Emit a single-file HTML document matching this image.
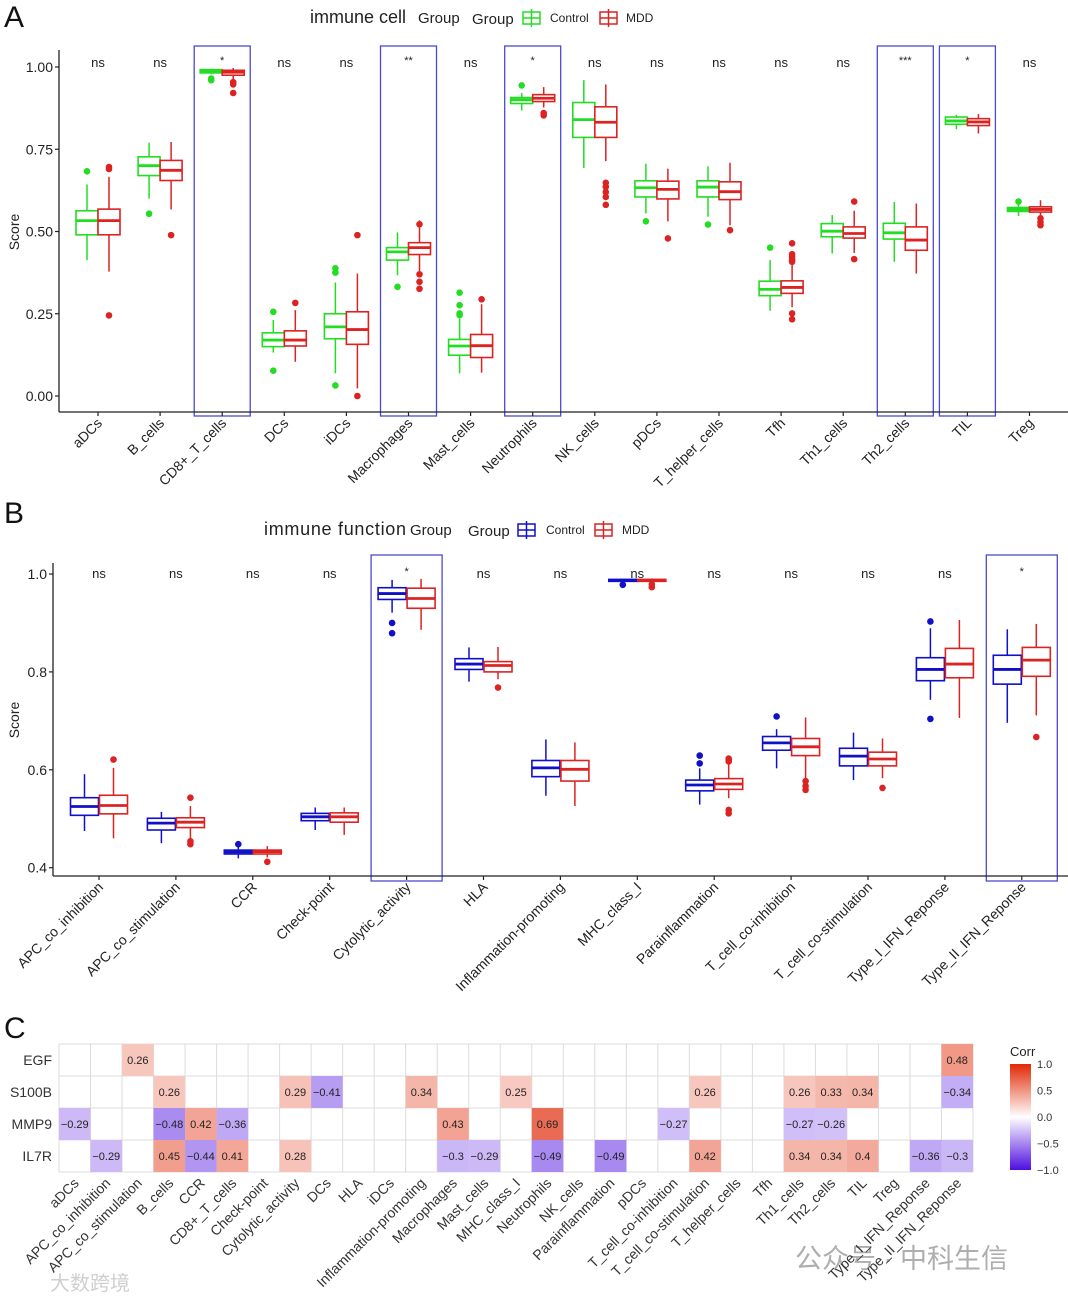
<!DOCTYPE html>
<html><head><meta charset="utf-8"><style>
html,body{margin:0;padding:0;background:#fff;}
svg{display:block;font-family:"Liberation Sans","Noto Sans CJK SC",sans-serif;}
</style></head><body>
<svg id="fig" width="1068" height="1301" viewBox="0 0 1068 1301" xmlns="http://www.w3.org/2000/svg">
<rect width="1068" height="1301" fill="#fff"/>
<text x="4" y="27" font-size="30" fill="#111">A</text>
<text x="4" y="523" font-size="30" fill="#111">B</text>
<text x="4" y="1038" font-size="30" fill="#111">C</text>
<g>
<text x="310" y="23" font-size="18" fill="#222">immune cell</text>
<text x="418" y="23" font-size="15" fill="#222">Group</text>
<text x="472" y="24" font-size="15" fill="#222">Group</text>
<g><rect x="523" y="12" width="17" height="12" fill="none" stroke="#22dd22" stroke-width="1.5"/><line x1="523" y1="18" x2="540" y2="18" stroke="#22dd22" stroke-width="1.5"/><line x1="531.5" y1="9" x2="531.5" y2="27" stroke="#22dd22" stroke-width="1.5"/><text x="550" y="22" font-size="12" fill="#222">Control</text></g>
<g><rect x="600" y="12" width="17" height="12" fill="none" stroke="#dd2222" stroke-width="1.5"/><line x1="600" y1="18" x2="617" y2="18" stroke="#dd2222" stroke-width="1.5"/><line x1="608.5" y1="9" x2="608.5" y2="27" stroke="#dd2222" stroke-width="1.5"/><text x="626" y="22" font-size="12" fill="#222">MDD</text></g>
</g>
<g>
<text x="264" y="535" font-size="18" fill="#222" textLength="142">immune function</text>
<text x="410" y="535" font-size="15" fill="#222">Group</text>
<text x="468" y="536" font-size="15" fill="#222">Group</text>
<g><rect x="518" y="524" width="17" height="12" fill="none" stroke="#1010c8" stroke-width="1.5"/><line x1="518" y1="530" x2="535" y2="530" stroke="#1010c8" stroke-width="1.5"/><line x1="526.5" y1="521" x2="526.5" y2="539" stroke="#1010c8" stroke-width="1.5"/><text x="546" y="534" font-size="12" fill="#222">Control</text></g>
<g><rect x="595" y="524" width="17" height="12" fill="none" stroke="#dd2222" stroke-width="1.5"/><line x1="595" y1="530" x2="612" y2="530" stroke="#dd2222" stroke-width="1.5"/><line x1="603.5" y1="521" x2="603.5" y2="539" stroke="#dd2222" stroke-width="1.5"/><text x="622" y="534" font-size="12" fill="#222">MDD</text></g>
</g>
<text x="795" y="1268" font-size="27" fill="#9a9a9a" opacity="0.8">公众号 · 中科生信</text>
<text x="50" y="1290" font-size="20" fill="#bbb" opacity="0.7">大数跨境</text>
</svg>
<script>
// ---------- Panel A data ----------
const catsA = ["aDCs","B_cells","CD8+_T_cells","DCs","iDCs","Macrophages","Mast_cells","Neutrophils","NK_cells","pDCs","T_helper_cells","Tfh","Th1_cells","Th2_cells","TIL","Treg"];
const ctrlA = [[0.413,0.49,0.533,0.563,0.643],[0.60,0.67,0.70,0.727,0.77],[0.978,0.982,0.988,0.992,0.994],[0.132,0.15,0.17,0.192,0.231],[0.069,0.174,0.21,0.25,0.345],[0.367,0.413,0.438,0.451,0.497],[0.069,0.124,0.152,0.172,0.236],[0.868,0.889,0.90,0.907,0.921],[0.693,0.786,0.84,0.892,0.96],[0.555,0.605,0.633,0.654,0.706],[0.545,0.605,0.635,0.654,0.698],[0.259,0.305,0.324,0.349,0.413],[0.433,0.484,0.501,0.524,0.55],[0.408,0.477,0.496,0.525,0.59],[0.811,0.826,0.836,0.848,0.855],[0.547,0.561,0.567,0.573,0.583]];
const ctrlOutA = [[0.683],[0.554],[0.965,0.96],[0.256,0.077],[0.388,0.375,0.032],[0.332],[0.314,0.276,0.251,0.246],[0.944],[],[0.531],[0.521],[0.451],[],[],[],[0.591]];
const mddA = [[0.378,0.49,0.533,0.568,0.666],[0.567,0.655,0.686,0.716,0.772],[0.96,0.975,0.984,0.99,0.997],[0.104,0.152,0.17,0.198,0.261],[0.023,0.157,0.202,0.256,0.372],[0.38,0.43,0.451,0.466,0.534],[0.071,0.117,0.153,0.187,0.279],[0.877,0.895,0.905,0.916,0.939],[0.714,0.786,0.832,0.879,0.947],[0.531,0.599,0.628,0.653,0.691],[0.519,0.597,0.621,0.651,0.709],[0.27,0.312,0.33,0.35,0.398],[0.435,0.48,0.494,0.514,0.563],[0.372,0.443,0.474,0.514,0.585],[0.798,0.822,0.833,0.843,0.857],[0.545,0.559,0.567,0.575,0.595]];
const mddOutA = [[0.696,0.69,0.245],[0.489],[0.954,0.947,0.921],[0.283],[0.489,0.0],[0.522,0.37,0.347,0.326],[0.294],[0.86,0.853],[0.648,0.636,0.62,0.605,0.581],[0.479],[0.504],[0.464,0.431,0.423,0.415,0.408,0.251,0.233],[0.591,0.416],[],[],[0.54,0.529,0.519]];
const sigA = ["ns","ns","*","ns","ns","**","ns","*","ns","ns","ns","ns","ns","***","*","ns"];
const ticksA = [0,0.25,0.5,0.75,1.0];
const tickLabelsA = ["0.00","0.25","0.50","0.75","1.00"];

// ---------- Panel B data ----------
const catsB = ["APC_co_inhibition","APC_co_stimulation","CCR","Check-point","Cytolytic_activity","HLA","Inflammation-promoting","MHC_class_I","Parainflammation","T_cell_co-inhibition","T_cell_co-stimulation","Type_I_IFN_Reponse","Type_II_IFN_Reponse"];
const ctrlB = [[0.475,0.507,0.525,0.543,0.591],[0.45,0.477,0.491,0.501,0.514],[0.419,0.428,0.432,0.436,0.443],[0.477,0.496,0.504,0.511,0.523],[0.921,0.948,0.96,0.972,0.988],[0.78,0.805,0.816,0.827,0.85],[0.547,0.586,0.604,0.619,0.662],[0.984,0.985,0.987,0.989,0.99],[0.529,0.557,0.569,0.579,0.603],[0.603,0.64,0.655,0.668,0.683],[0.579,0.608,0.628,0.644,0.676],[0.743,0.782,0.805,0.829,0.889],[0.696,0.775,0.805,0.834,0.887]];
const ctrlOutB = [[],[],[0.448],[],[0.90,0.879],[],[],[0.978],[0.629,0.613],[0.709],[],[0.903,0.704],[]];
const mddB = [[0.46,0.51,0.527,0.548,0.604],[0.458,0.482,0.493,0.502,0.526],[0.421,0.428,0.433,0.436,0.444],[0.467,0.493,0.504,0.512,0.523],[0.886,0.93,0.95,0.971,0.99],[0.785,0.80,0.813,0.821,0.851],[0.526,0.577,0.601,0.619,0.656],[0.983,0.985,0.987,0.989,0.991],[0.542,0.56,0.571,0.582,0.613],[0.579,0.629,0.647,0.664,0.707],[0.583,0.608,0.622,0.636,0.664],[0.706,0.788,0.816,0.848,0.906],[0.711,0.791,0.824,0.85,0.898]];
const mddOutB = [[0.621],[0.543,0.454,0.448],[0.412],[],[],[0.768],[],[0.979,0.973],[0.623,0.62,0.617,0.518,0.511],[0.577,0.567,0.559],[0.563],[],[0.667]];
const sigB = ["ns","ns","ns","ns","*","ns","ns","ns","ns","ns","ns","ns","*"];
const ticksB = [0.4,0.6,0.8,1.0];
const tickLabelsB = ["0.4","0.6","0.8","1.0"];

// ---------- Panel C data ----------
const rowsC = ["EGF","S100B","MMP9","IL7R"];
const colsC = ["aDCs","APC_co_inhibition","APC_co_stimulation","B_cells","CCR","CD8+_T_cells","Check-point","Cytolytic_activity","DCs","HLA","iDCs","Inflammation-promoting","Macrophages","Mast_cells","MHC_class_I","Neutrophils","NK_cells","Parainflammation","pDCs","T_cell_co-inhibition","T_cell_co-stimulation","T_helper_cells","Tfh","Th1_cells","Th2_cells","TIL","Treg","Type_I_IFN_Reponse","Type_II_IFN_Reponse"];
const N = null;
const corrEGF  = [N,N,0.26,N,N,N,N,N,N,N,N,N,N,N,N,N,N,N,N,N,N,N,N,N,N,N,N,N,0.48];
const corrS100B= [N,N,N,0.26,N,N,N,0.29,-0.41,N,N,0.34,N,N,0.25,N,N,N,N,N,0.26,N,N,0.26,0.33,0.34,N,N,-0.34];
const corrMMP9 = [-0.29,N,N,-0.48,0.42,-0.36,N,N,N,N,N,N,0.43,N,N,0.69,N,N,N,-0.27,N,N,N,-0.27,-0.26,N,N,N,N];
const corrIL7R = [N,-0.29,N,0.45,-0.44,0.41,N,0.28,N,N,N,N,-0.3,-0.29,N,-0.49,N,-0.49,N,N,0.42,N,N,0.34,0.34,0.4,N,-0.36,-0.3];
const corrC = [corrEGF,corrS100B,corrMMP9,corrIL7R];
const legendTicksC = [1.0,0.5,0.0,-0.5,-1.0];

const NS="http://www.w3.org/2000/svg";
const svg=document.getElementById('fig');
function mk(tag,attrs,parent,txt){const e=document.createElementNS(NS,tag);for(const k in attrs)e.setAttribute(k,attrs[k]);if(txt!==undefined)e.textContent=txt;(parent||svg).appendChild(e);return e;}

function boxPanel(o){
  const g=mk('g',{});
  
  
  const y=v=>o.y0-(v-o.vmin)*o.scale;
  const x=i=>o.x0+o.step*i;
  o.sig.forEach((s,i)=>{ if(s!=="ns"){ const r=mk('rect',{x:x(i)-o.hw,y:o.hy1,width:2*o.hw,height:o.hy2-o.hy1,fill:'none',stroke:'#4a4ad0','stroke-width':1.3},g);
    
    }});
  const ax=mk('line',{x1:o.ax,y1:o.atop,x2:o.ax,y2:o.abot,stroke:'#222','stroke-width':1.3},g);
  
  const xa=mk('line',{x1:o.ax,y1:o.abot,x2:1068,y2:o.abot,stroke:'#222','stroke-width':1.3},g);
  
  o.ticks.forEach((t,k)=>{mk('line',{x1:o.ax-4,y1:y(t),x2:o.ax,y2:y(t),stroke:'#222','stroke-width':1.2},g);
    const tl=mk('text',{x:o.ax-6,y:y(t)+5,'font-size':14,'text-anchor':'end',fill:'#222'},g,o.tickLabels[k]);
    });
  const yt=mk('text',{x:0,y:0,'font-size':14,'text-anchor':'middle',fill:'#222',transform:`translate(19,${o.ytitleY}) rotate(-90)`},g,'Score');
  
  o.cats.forEach((c,i)=>{
    const cx=x(i);
    mk('line',{x1:cx,y1:o.abot,x2:cx,y2:o.abot+4,stroke:'#222','stroke-width':1.2},g);
    const lb=mk('text',{x:0,y:0,'font-size':o.lfs,'text-anchor':'end',fill:'#222',transform:`translate(${cx+5},${o.abot+12}) rotate(-45)`},g,c);
    
    const st=mk('text',{x:cx,y:o.sigY+(o.sig[i]==="ns"?0:-3),'font-size':o.sig[i]==="ns"?13:11,'text-anchor':'middle',fill:'#222'},g,o.sig[i]);
    
    [[o.ctrl,o.ctrlOut,o.c1,-1,'control'],[o.mdd,o.mddOut,'#dd2222',1,'mdd']].forEach(([d,out,col,sgn,nm])=>{
      const b=d[i];const bc=cx+sgn*o.off;const bw=o.bw;
      const bg=mk('g',{},g);
      
      
      mk('line',{x1:bc,y1:y(b[0]),x2:bc,y2:y(b[1]),stroke:col,'stroke-width':1.5},bg);
      mk('line',{x1:bc,y1:y(b[3]),x2:bc,y2:y(b[4]),stroke:col,'stroke-width':1.5},bg);
      mk('rect',{x:bc-bw/2,y:y(b[3]),width:bw,height:Math.max(1,y(b[1])-y(b[3])),fill:'#fff',stroke:col,'stroke-width':1.6},bg);
      mk('line',{x1:bc-bw/2,y1:y(b[2]),x2:bc+bw/2,y2:y(b[2]),stroke:col,'stroke-width':2.8},bg);
      out[i].forEach(v=>{const p=mk('circle',{cx:bc,cy:y(v),r:3.3,fill:col},bg);
        });
    });
  });
}
boxPanel({name:'panel-a-boxplot',cats:catsA,ctrl:ctrlA,ctrlOut:ctrlOutA,mdd:mddA,mddOut:mddOutA,sig:sigA,ticks:ticksA,tickLabels:tickLabelsA,
  vmin:0,scale:329,y0:396,x0:98,step:62.1,off:11,bw:22,hw:28,hy1:46,hy2:416,ax:59,atop:50,abot:412,c1:'#22dd22',sigY:67,ytitleY:232,lfs:14});
boxPanel({name:'panel-b-boxplot',cats:catsB,ctrl:ctrlB,ctrlOut:ctrlOutB,mdd:mddB,mddOut:mddOutB,sig:sigB,ticks:ticksB,tickLabels:tickLabelsB,
  vmin:0.4,scale:489.5,y0:867.7,x0:99,step:76.9,off:14.5,bw:28,hw:35.5,hy1:555,hy2:881,ax:53,atop:563,abot:876,c1:'#1010c8',sigY:578,ytitleY:720,lfs:14});

(function(){
  const g=mk('g',{});
  
  
  const gx0=59,gx1=973,gy0=1044,ch=32;const cw=(gx1-gx0)/colsC.length;
  function color(v){
    if(v>=0){return `rgb(${Math.round(255-30*v)},${Math.round(255-215*v)},${Math.round(255-250*v)})`;}
    const a=-v;return `rgb(${Math.round(255-177*a)},${Math.round(255-240*a)},${Math.round(255-31*a)})`;
  }
  for(let c=0;c<=colsC.length;c++) mk('line',{x1:gx0+c*cw,y1:gy0,x2:gx0+c*cw,y2:gy0+ch*rowsC.length,stroke:'#dcdcdc','stroke-width':1},g);
  for(let r=0;r<=rowsC.length;r++) mk('line',{x1:gx0,y1:gy0+r*ch,x2:gx1,y2:gy0+r*ch,stroke:'#dcdcdc','stroke-width':1},g);
  rowsC.forEach((rn,r)=>{
    const t=mk('text',{x:gx0-7,y:gy0+r*ch+ch/2+5,'font-size':14,'text-anchor':'end',fill:'#333'},g,rn);
    
    corrC[r].forEach((v,c)=>{ if(v===null)return;
      const cell=mk('rect',{x:gx0+c*cw,y:gy0+r*ch,width:cw,height:ch,fill:color(v)},g);
      
      
      const vt=mk('text',{x:gx0+c*cw+cw/2,y:gy0+r*ch+ch/2+4,'font-size':11,'text-anchor':'middle',fill:'#222'},g,String(v).replace('-','−'));
      
    });
  });
  colsC.forEach((cn,c)=>{
    const cx=gx0+c*cw+cw/2;
    const t=mk('text',{x:0,y:0,'font-size':14,'text-anchor':'end',fill:'#333',transform:`translate(${cx+5},${gy0+ch*4+12}) rotate(-45)`},g,cn);
    
  });
  const lg=mk('g',{},g);
  
  
  const defs=mk('defs',{},lg);const grad=mk('linearGradient',{id:'cg',x1:0,y1:0,x2:0,y2:1},defs);
  [1,0.5,0,-0.5,-1].forEach((v,k)=>mk('stop',{offset:(k*25)+'%','stop-color':color(v)},grad));
  mk('text',{x:1010,y:1056,'font-size':13,fill:'#222'},lg,'Corr');
  const top=1064,bot=1170;
  mk('rect',{x:1010,y:top,width:21,height:bot-top,fill:'url(#cg)'},lg);
  legendTicksC.forEach(v=>{const yy=top+(1-v)/2*(bot-top);
    mk('text',{x:1037,y:yy+4,'font-size':11,fill:'#333'},lg,v.toFixed(1).replace('-','−'));});
})();
</script>
</body></html>
